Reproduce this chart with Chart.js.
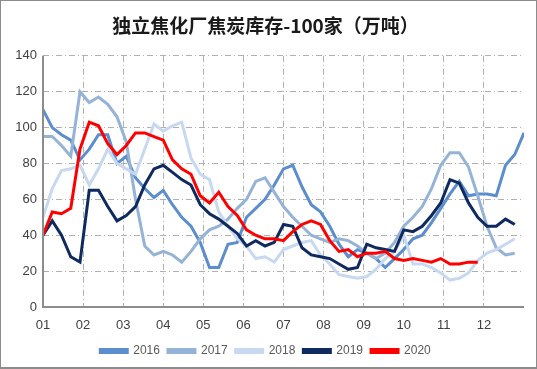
<!DOCTYPE html>
<html>
<head>
<meta charset="utf-8">
<script src="https://cdn.jsdelivr.net/npm/chart.js@4"></script>
<style>
  html, body { margin: 0; padding: 0; background: #fff; }
  #wrap {
    width: 537px; height: 369px; box-sizing: border-box;
    border: 1px solid #8c8c8c; border-bottom-width: 2px; background: #fff;
  }
  canvas { display: block; }
</style>
</head>
<body>
<div id="wrap"><canvas id="c" width="535" height="366"></canvas></div>
<script>
// 月份刻度标签
const MONTHS = ['01', '02', '03', '04', '05', '06', '07', '08', '09', '10', '11', '12'];
const YEARS = ['2016', '2017', '2018', '2019', '2020'];
const WEEKS_PER_YEAR = 52;

// 各年每周库存（万吨）
const s2016 = [110, 100, 96, 93, 82, 88, 96, 96, 80, 84, 72, 66, 61, 65, 57, 50, 45, 36, 22, 22,
  35, 36, 50, 55, 60, 68, 77, 79, 67, 57, 53, 45, 35, 28, 32, 30, 27, 22, 27, 32,
  38, 40, 47, 55, 63, 70, 62, 63, 63, 62, 79, 85, 97];
const s2017 = [95, 95, 90, 84, 120, 114, 117, 113, 106, 92, 60, 34, 29, 31, 29, 25, 31, 38, 43, 45,
  49, 55, 60, 70, 72, 64, 56, 50, 45, 40, 38, 36, 38, 37, 34, 30, 27, 30, 36, 45,
  50, 56, 66, 79, 86, 86, 78, 62, 45, 33, 29, 30];
const s2018 = [50, 66, 76, 77, 79, 68, 77, 88, 80, 77, 74, 88, 102, 98, 101, 103, 83, 74, 71, 53,
  45, 38, 34, 27, 28, 25, 32, 34, 36, 37, 29, 24, 18, 17, 16, 17, 21, 27, 31, 40,
  24, 24, 22, 19, 15, 16, 19, 26, 30, 32, 35, 38];
const s2019 = [40, 48, 40, 28, 25, 65, 65, 56, 48, 51, 56, 68, 77, 79, 75, 71, 68, 57, 52, 49,
  45, 41, 34, 37, 34, 36, 46, 45, 33, 29, 28, 27, 24, 21, 22, 35, 33, 32, 31, 43,
  42, 45, 51, 58, 71, 69, 58, 50, 45, 45, 49, 46];
const s2020 = [40, 53, 52, 55, 88, 103, 101, 91, 85, 90, 97, 97, 95, 93, 82, 77, 74, 62, 58, 64,
  56, 51, 43, 40, 38, 38, 37, 42, 46, 48, 46, 37, 31, 32, 28, 30, 30, 31, 27, 26,
  27, 26, 25, 27, 24, 24, 25, 25];

const SERIES = [s2016, s2017, s2018, s2019, s2020];
const COLORS = ['#5b8dcf', '#95b3d7', '#c6d9f1', '#0f2a5e', '#ff0000'];

const datasets = SERIES.map((vals, k) => ({
  label: YEARS[k],
  data: vals.map((v, i) => ({ x: i, y: v })),
  borderColor: COLORS[k],
  backgroundColor: COLORS[k],
  borderWidth: 3,
  pointRadius: 0,
  tension: 0,
  order: k === 4 ? 0 : 5 - k
}));

const GRID = '#b0b0b0';
const AXIS = '#8c8c8c';
const monthPos = MONTHS.map((m, i) => i * WEEKS_PER_YEAR / 12);

// 实线坐标轴（网格线是点划线）
const axisLines = {
  id: 'axisLines',
  afterDraw(chart) {
    const { ctx, chartArea: a } = chart;
    ctx.save();
    ctx.strokeStyle = AXIS;
    ctx.lineWidth = 2;
    ctx.beginPath();
    ctx.moveTo(a.left, a.top);
    ctx.lineTo(a.left, a.bottom);
    ctx.lineTo(a.right, a.bottom);
    ctx.stroke();
    ctx.restore();
  }
};

new Chart(document.getElementById('c'), {
  type: 'line',
  data: { datasets },
  plugins: [axisLines],
  options: {
    responsive: false,
    animation: false,
    layout: { padding: { left: 6, right: 12, top: 0, bottom: 0 } },
    plugins: {
      title: {
        display: true,
        text: '独立焦化厂焦炭库存-100家（万吨）',
        color: '#1a1a1a',
        font: { family: '"Noto Sans CJK SC"', size: 19, weight: 'bold' },
        padding: { top: 13, bottom: 19 }
      },
      legend: {
        position: 'bottom',
        labels: {
          boxWidth: 27,
          boxHeight: 3,
          padding: 8,
          color: '#595959',
          font: { family: '"Liberation Sans"', size: 12 },
          sort: (a, b) => a.datasetIndex - b.datasetIndex
        }
      },
      tooltip: { enabled: false }
    },
    scales: {
      x: {
        type: 'linear',
        min: 0,
        max: WEEKS_PER_YEAR,
        afterBuildTicks: (scale) => {
          scale.ticks = monthPos.map(v => ({ value: v }));
        },
        ticks: {
          autoSkip: false,
          maxRotation: 0,
          padding: 11,
          color: '#404040',
          font: { family: '"Liberation Sans"', size: 13 },
          callback: (v, i) => MONTHS[i]
        },
        grid: { color: GRID, lineWidth: 1, drawTicks: false },
        border: { display: false, dash: [6, 3, 1, 3] },
        afterFit: (scale) => { scale.height = 30; }
      },
      y: {
        min: 0,
        max: 140,
        ticks: {
          stepSize: 20,
          padding: 6,
          color: '#404040',
          font: { family: '"Liberation Sans"', size: 13 }
        },
        grid: { color: GRID, lineWidth: 1, drawTicks: false },
        border: { display: false, dash: [6, 3, 1, 3] },
        afterFit: (scale) => { scale.width = 36; }
      }
    }
  }
});
</script>
</body>
</html>
